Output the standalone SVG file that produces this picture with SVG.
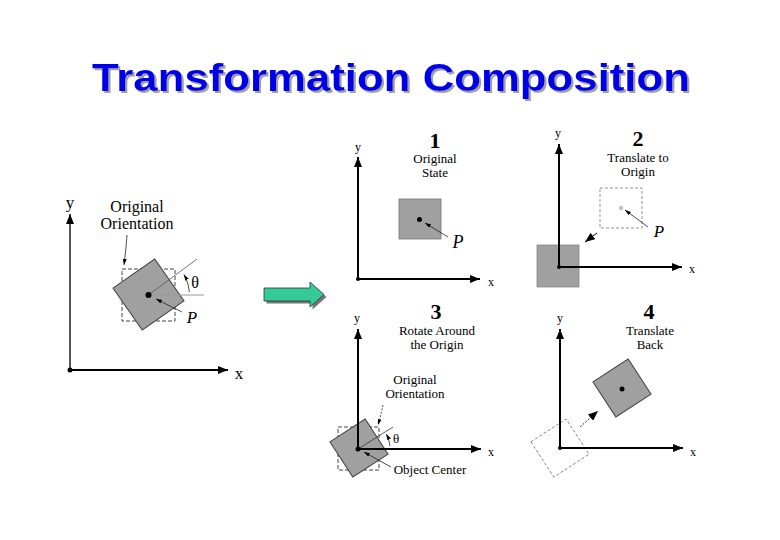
<svg xmlns="http://www.w3.org/2000/svg" width="780" height="540" viewBox="0 0 780 540">
<style>
.ax{stroke:#000;stroke-width:2;fill:none}
.lab{font-family:"Liberation Serif",serif;fill:#000;text-anchor:middle}
.num{font-family:"Liberation Serif",serif;font-weight:bold;fill:#000;text-anchor:middle;font-size:22px}
.cap{font-family:"Liberation Serif",serif;fill:#000;text-anchor:middle;font-size:13px}
.pl{font-family:"Liberation Serif",serif;font-style:italic;fill:#000;text-anchor:middle}
.sq{fill:#a0a0a0;stroke:#444;stroke-width:1}
.dsq{fill:none;stroke:#444;stroke-width:1;stroke-dasharray:4 2}
.dsql{fill:none;stroke:#777;stroke-width:0.8;stroke-dasharray:3 2}
.ptr{stroke:#222;stroke-width:0.8;fill:none}
.title{font-family:"Liberation Sans",Arial,sans-serif;font-weight:bold;font-size:38px}
</style>
<defs>
<filter id="shadow" x="-5%" y="-20%" width="110%" height="150%">
<feOffset in="SourceAlpha" dx="2" dy="2" result="o"/>
<feFlood flood-color="#a0a0a0"/>
<feComposite in2="o" operator="in" result="s"/>
<feMerge><feMergeNode in="s"/><feMergeNode in="SourceGraphic"/></feMerge>
</filter>
<marker id="ah" viewBox="0 0 10 8" refX="10" refY="4" markerWidth="10" markerHeight="8" markerUnits="userSpaceOnUse" orient="auto"><path d="M0,0 L10,4 L0,8 z" fill="#000"/></marker>
<marker id="sa" viewBox="0 0 6 4" refX="6" refY="2" markerWidth="6" markerHeight="4" markerUnits="userSpaceOnUse" orient="auto"><path d="M0,0 L6,2 L0,4 z" fill="#000"/></marker>
<marker id="ma" viewBox="0 0 10 8" refX="10" refY="4" markerWidth="10" markerHeight="8" markerUnits="userSpaceOnUse" orient="auto"><path d="M0,0 L10,4 L0,8 z" fill="#000"/></marker>
</defs>

<g id="title">
<text class="title" x="92" y="91" fill="#0000e6" filter="url(#shadow)" textLength="598" lengthAdjust="spacingAndGlyphs">Transformation Composition</text>
</g>

<g id="main-diagram">
<rect class="dsq" x="122" y="269" width="53" height="52"/>
<rect class="sq" x="-25.5" y="-25.5" width="51" height="51" transform="translate(148.5,294.5) rotate(-35)"/>
<line x1="148.5" y1="295" x2="204" y2="295" stroke="#999" stroke-width="1"/>
<line x1="148.5" y1="295" x2="197" y2="259" stroke="#555" stroke-width="0.8"/>
<circle cx="148.5" cy="295" r="3" fill="#000"/>
<path class="ptr" d="M189.4,292 A41,41 0 0 0 184,274.5" marker-end="url(#sa)"/>
<text class="lab" x="195" y="288" font-size="16">θ</text>
<line class="ptr" x1="182" y1="312" x2="156" y2="299" marker-end="url(#sa)"/>
<text class="pl" x="192" y="323" font-size="17">P</text>
<text class="lab" x="137" y="212" font-size="16">Original</text>
<text class="lab" x="137" y="229" font-size="16">Orientation</text>
<path class="ptr" d="M127,235 Q126,250 124,265" marker-end="url(#sa)"/>
<line x1="70" y1="370" x2="70" y2="214" stroke="#555" stroke-width="2" marker-end="url(#ah)"/>
<line x1="70" y1="370" x2="228" y2="370" class="ax" marker-end="url(#ah)"/>
<circle cx="70" cy="370" r="2.5" fill="#000"/>
<text class="lab" x="70" y="208" font-size="17">y</text>
<text class="lab" x="239" y="379" font-size="17">x</text>
</g>

<g id="big-arrow">
<polygon points="266.5,290.5 312.5,290.5 312.5,284.5 326.5,297 312.5,309.5 312.5,303.5 266.5,303.5" fill="#777"/>
<polygon points="264,288 310,288 310,282 324,294.5 310,307 310,301 264,301" fill="#33cc99" stroke="#333" stroke-width="0.8"/>
</g>

<g id="panel1">
<rect x="399" y="199" width="42" height="40" fill="#a0a0a0" stroke="#777" stroke-width="0.8"/>
<circle cx="419.5" cy="219.5" r="2.5" fill="#000"/>
<line class="ptr" x1="448" y1="237" x2="425" y2="223" marker-end="url(#sa)"/>
<text class="pl" x="458" y="248" font-size="18">P</text>
<line class="ax" x1="358" y1="279" x2="358" y2="157" marker-end="url(#ah)"/>
<line class="ax" x1="358" y1="279" x2="480" y2="279" marker-end="url(#ah)"/>
<circle cx="358" cy="279" r="2" fill="#000"/>
<text class="lab" x="358" y="151" font-size="12">y</text>
<text class="lab" x="491" y="286" font-size="12">x</text>
<text class="num" x="435" y="148">1</text>
<text class="cap" x="435" y="163">Original</text>
<text class="cap" x="435" y="177">State</text>
</g>

<g id="panel2">
<rect x="537" y="245" width="42" height="42" fill="#a0a0a0" stroke="#888" stroke-width="0.8"/>
<rect class="dsql" x="600" y="188" width="42" height="40"/>
<circle cx="621" cy="208" r="1.5" fill="none" stroke="#555" stroke-width="0.6"/>
<line class="ptr" x1="648" y1="227" x2="625" y2="210" marker-end="url(#sa)"/>
<text class="pl" x="659" y="237" font-size="17">P</text>
<line x1="597" y1="233" x2="585" y2="242" stroke="#000" stroke-width="1" marker-end="url(#ma)"/>
<line class="ax" x1="559" y1="267" x2="559" y2="144" marker-end="url(#ah)"/>
<line class="ax" x1="559" y1="267" x2="682" y2="267" marker-end="url(#ah)"/>
<circle cx="559" cy="267" r="2" fill="#000"/>
<text class="lab" x="558" y="137" font-size="12">y</text>
<text class="lab" x="692" y="273" font-size="12">x</text>
<text class="num" x="638" y="146">2</text>
<text class="cap" x="638" y="162">Translate to</text>
<text class="cap" x="638" y="176">Origin</text>
</g>

<g id="panel3">
<rect class="dsq" x="338" y="427" width="41" height="43" stroke="#555" stroke-width="0.8"/>
<rect class="sq" x="-21" y="-21" width="42" height="42" stroke="#666" transform="translate(359,448) rotate(-33)"/>
<line x1="358" y1="449" x2="393" y2="427" stroke="#333" stroke-width="0.8"/>
<path class="ptr" d="M390,446 A32,32 0 0 0 386.3,434" marker-end="url(#sa)"/>
<text class="lab" x="396" y="443" font-size="13">θ</text>
<line class="ax" x1="358" y1="449" x2="358" y2="329" marker-end="url(#ah)"/>
<line class="ax" x1="358" y1="449" x2="481" y2="449" marker-end="url(#ah)"/>
<circle cx="358" cy="449" r="2.5" fill="#000"/>
<line class="ptr" x1="391" y1="467" x2="364" y2="452" marker-end="url(#sa)"/>
<text class="cap" x="430" y="474">Object Center</text>
<text class="cap" x="415" y="384">Original</text>
<text class="cap" x="415" y="398">Orientation</text>
<path class="ptr" d="M383,405 Q381,415 378,425" stroke-dasharray="2 1.5" marker-end="url(#sa)"/>
<text class="lab" x="357" y="322" font-size="12">y</text>
<text class="lab" x="491" y="456" font-size="12">x</text>
<text class="num" x="436" y="319">3</text>
<text class="cap" x="437" y="335">Rotate Around</text>
<text class="cap" x="437" y="349">the Origin</text>
</g>

<g id="panel4">
<rect class="dsql" x="-21" y="-21" width="42" height="42" transform="translate(560,448) rotate(-33)"/>
<rect class="sq" x="-21" y="-21" width="42" height="42" stroke="#666" transform="translate(622,388) rotate(-33)"/>
<circle cx="622" cy="389" r="2.5" fill="#000"/>
<line x1="580" y1="427" x2="598" y2="411" stroke="#000" stroke-width="0.8" stroke-dasharray="2 1.5" marker-end="url(#ma)"/>
<line class="ax" x1="560" y1="448" x2="560" y2="329" marker-end="url(#ah)"/>
<line class="ax" x1="560" y1="448" x2="683" y2="448" marker-end="url(#ah)"/>
<circle cx="560" cy="448" r="2" fill="#000"/>
<text class="lab" x="560" y="322" font-size="12">y</text>
<text class="lab" x="693" y="456" font-size="12">x</text>
<text class="num" x="649" y="319">4</text>
<text class="cap" x="650" y="335">Translate</text>
<text class="cap" x="650" y="349">Back</text>
</g>
</svg>
